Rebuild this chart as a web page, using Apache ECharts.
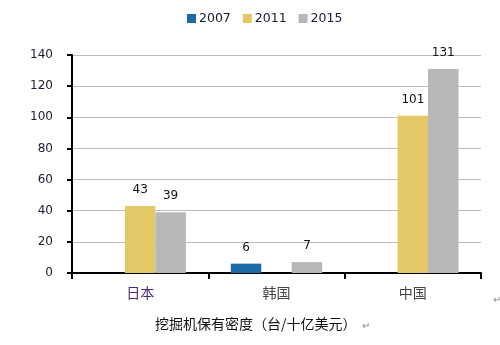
<!DOCTYPE html>
<html><head><meta charset="utf-8">
<script src="https://cdn.jsdelivr.net/npm/echarts@6/dist/echarts.min.js"></script>
<style>html,body{margin:0;padding:0;background:#fff}#c{width:500px;height:345px}</style>
</head><body><div id="c"></div>
<script>
const categories = ['日本', '韩国', '中国'];
const seriesNames = ['2007', '2011', '2015'];
const v2007 = [null, 6, null];
const v2011 = [43, null, 101];
const v2015 = [39, 7, 131];
const yTicks = [0, 20, 40, 60, 80, 100, 120, 140];
const caption = '挖掘机保有密度（台/十亿美元）';

const colors = ['#1c6aa6', '#e4c866', '#b7b7b7'];
const font = '"DejaVu Sans", "Noto Sans", sans-serif';
const chart = echarts.init(document.getElementById('c'), null, {renderer: 'canvas'});
const mk = (name, data, i) => ({
  name, type: 'bar', data, barGap: '0%', barCategoryGap: '33%',
  itemStyle: {color: colors[i]},
  label: {show: true, position: 'top', distance: 10, color: '#111', fontSize: 12, fontFamily: font}
});
chart.setOption({
  animation: false,
  color: colors,
  legend: {
    top: 7, left: 182, itemWidth: 9, itemHeight: 9, itemGap: 12,
    icon: 'rect',
    textStyle: {color: '#1a1a30', fontSize: 12.5, fontFamily: font, padding: [0, 0, 0, -2]},
    data: seriesNames
  },
  grid: {left: 72, right: 19, top: 55, bottom: 72},
  xAxis: {
    type: 'category', data: categories,
    axisLine: {lineStyle: {color: '#000', width: 2}},
    axisTick: {show: true, length: 6, lineStyle: {color: '#000', width: 2}},
    axisLabel: {
      fontSize: 14, margin: 13, fontFamily: '"Noto Sans CJK SC", sans-serif',
      color: (v, i) => i === 0 ? '#4a2a80' : '#444'
    }
  },
  yAxis: {
    type: 'value', min: yTicks[0], max: yTicks[yTicks.length - 1], interval: 20,
    axisLine: {show: true, lineStyle: {color: '#000', width: 2}},
    axisTick: {show: true, length: 5, lineStyle: {color: '#000', width: 2}},
    splitLine: {lineStyle: {color: '#bdbdbd', width: 1}},
    axisLabel: {color: '#1a1a30', fontSize: 12, margin: 19, fontFamily: font}
  },
  graphic: [
    {type: 'text', left: 155, top: 317, style: {text: caption, fill: '#111', fontSize: 14, fontFamily: '"Noto Sans CJK SC", sans-serif'}},
    {type: 'text', left: 362, top: 321, style: {text: '↵', fill: '#888', fontSize: 10}},
    {type: 'text', left: 493, top: 295, style: {text: '↵', fill: '#888', fontSize: 10}}
  ],
  series: [mk('2007', v2007, 0), mk('2011', v2011, 1), mk('2015', v2015, 2)]
});
</script></body></html>
